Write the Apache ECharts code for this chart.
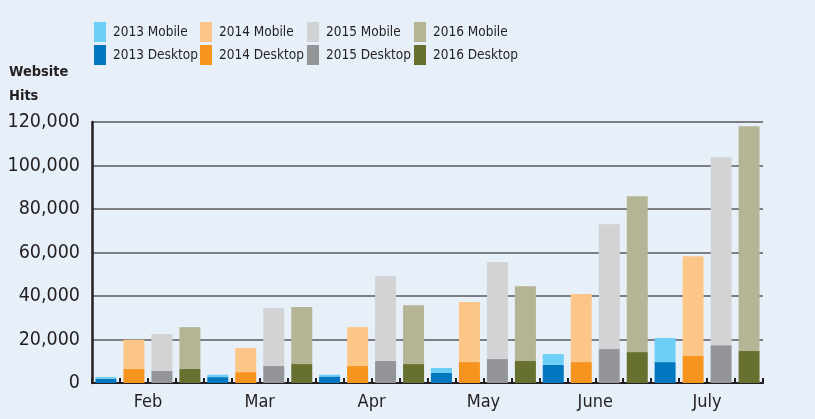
<!DOCTYPE html>
<html>
<head>
<meta charset="utf-8">
<script src="https://cdn.jsdelivr.net/npm/echarts@6/dist/echarts.min.js"></script>
<style>
  html, body { margin: 0; padding: 0; background: #e7f0f8; }
  #chart { width: 815px; height: 419px; }
</style>
</head>
<body>
<div id="chart"></div>
<script>
const months = ['Feb', 'Mar', 'Apr', 'May', 'June', 'July']
const years = ['2013', '2014', '2015', '2016']

// desktop hits per year, per month
const desktop2013 = [2000, 2700, 3000, 4600, 8300, 9600]
const desktop2014 = [6500, 5000, 7800, 9600, 9600, 12400]
const desktop2015 = [5500, 7800, 10100, 11000, 15600, 17400]
const desktop2016 = [6600, 8700, 8700, 10100, 14200, 14700]

// mobile hits (stacked on top of desktop)
const mobile2013 = [800, 1100, 800, 2300, 5000, 11100]
const mobile2014 = [13400, 11100, 17900, 27600, 31300, 45900]
const mobile2015 = [17000, 26600, 39000, 44600, 57400, 86400]
const mobile2016 = [19100, 26200, 27100, 34400, 71700, 103300]

const yTicks = [0, 20000, 40000, 60000, 80000, 100000, 120000]

const mobileColors = ['#6dcff6', '#fdc689', '#d1d3d4', '#b5b595']
const desktopColors = ['#0077be', '#f7941d', '#939598', '#67702f']

const desktopData = [desktop2013, desktop2014, desktop2015, desktop2016]
const mobileData = [mobile2013, mobile2014, mobile2015, mobile2016]

const textColor = '#231f20'
const font = '"DejaVu Sans Condensed", "Liberation Sans Narrow", sans-serif'

function fmt (v) {
  return String(v).replace(/\B(?=(\d{3})+(?!\d))/g, ',')
}

const series = []
years.forEach((y, i) => {
  series.push({
    name: y + ' Desktop',
    type: 'bar',
    stack: y,
    barWidth: 21,
    barGap: '33.3%',
    itemStyle: { color: desktopColors[i] },
    data: desktopData[i]
  })
  series.push({
    name: y + ' Mobile',
    type: 'bar',
    stack: y,
    barWidth: 21,
    barGap: '33.3%',
    itemStyle: { color: mobileColors[i] },
    data: mobileData[i]
  })
})

// one little legend per year column
const legendLeft = [89, 195, 302, 409]
const legends = years.map((y, i) => ({
  orient: 'vertical',
  left: legendLeft[i],
  top: 17,
  itemWidth: 12,
  itemHeight: 20,
  itemGap: 3,
  icon: 'rect',
  selectedMode: false,
  textStyle: { fontFamily: font, fontSize: 13.5, color: textColor, padding: [0, 0, 0, 2] },
  data: [y + ' Mobile', y + ' Desktop']
}))

// 24 slots, only used to draw the small ticks between bars
const slots = []
months.forEach(m => years.forEach(y => slots.push(m + y)))

const chart = echarts.init(document.getElementById('chart'))
chart.setOption({
  backgroundColor: '#e7f0f8',
  animation: false,
  title: {
    text: 'Website\nHits',
    left: 4,
    top: 55,
    textStyle: { fontFamily: font, fontSize: 14.5, fontWeight: 'bold', color: textColor, lineHeight: 24 }
  },
  legend: legends,
  grid: { left: 92, right: 52, top: 122, bottom: 36 },
  xAxis: [
    {
      type: 'category',
      data: months,
      axisLine: { lineStyle: { color: textColor, width: 2 } },
      axisTick: { show: false },
      axisLabel: { fontFamily: font, fontSize: 18, color: textColor, margin: 10 }
    },
    {
      type: 'category',
      data: slots,
      position: 'bottom',
      axisLine: { show: false },
      axisTick: { show: true, inside: true, length: 5, interval: 0, lineStyle: { color: textColor, width: 2 } },
      axisLabel: { show: false }
    }
  ],
  yAxis: {
    type: 'value',
    min: yTicks[0],
    max: yTicks[yTicks.length - 1],
    interval: 20000,
    axisLine: { show: true, lineStyle: { color: textColor, width: 2.5 } },
    axisTick: { show: false },
    splitLine: { lineStyle: { color: '#58595b', width: 1.5 } },
    axisLabel: { fontFamily: font, fontSize: 19.5, color: textColor, margin: 12, formatter: fmt }
  },
  series: series
})
</script>
</body>
</html>
